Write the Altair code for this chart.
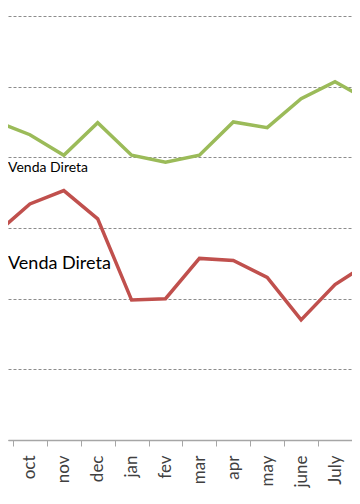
import altair as alt
import pandas as pd

months = ["sep", "oct", "nov", "dec", "jan", "fev", "mar", "apr", "may", "june", "July", "aug"]
serie_verde = [45.1, 43.2, 40.3, 44.9, 40.3, 39.3, 40.3, 45.0, 44.2, 48.3, 50.7, 48.0]
serie_vermelha = [29.2, 33.4, 35.3, 31.3, 19.8, 20.0, 25.7, 25.4, 23.0, 17.0, 22.0, 25.1]
series_names = ["Venda Direta (verde)", "Venda Direta (vermelha)"]
colors = ["#9BBB59", "#C0504D"]
grid_values = [0, 10, 20, 30, 40, 50, 60]
label_texts = ["Venda Direta", "Venda Direta"]

rows = []
for i, m in enumerate(months):
    rows.append({"idx": i, "month": m, "value": serie_verde[i], "serie": series_names[0]})
    rows.append({"idx": i, "month": m, "value": serie_vermelha[i], "serie": series_names[1]})
df = pd.DataFrame(rows)

tick_vals = []
for i in range(len(months)):
    tick_vals.append(i)
    tick_vals.append(i + 0.5)

label_expr = ("datum.value % 1 === 0 ? [" + ",".join("'%s'" % m for m in months)
              + "][datum.value] : ''")

x_scale = alt.Scale(domain=[0.354, 10.501], nice=False, zero=False)
y_scale = alt.Scale(domain=[0, 61.13], nice=False, zero=True)

lines = alt.Chart(df).mark_line(strokeWidth=3.5, clip=True).encode(
    x=alt.X("idx:Q", scale=x_scale, title=None,
            axis=alt.Axis(values=tick_vals, labelExpr=label_expr, labelAngle=270,
                          labelFont="Lato", labelFontSize=17, labelColor="#404040",
                          labelPadding=9, tickSize=6, tickColor="#a6a6a6",
                          tickOpacity={"condition": {"test": "datum.value % 1 === 0", "value": 0}, "value": 1},
                          domainColor="#a6a6a6", domainWidth=1.5, grid=False,
                          labelOverlap=False, labelBound=False, labelFlush=False)),
    y=alt.Y("value:Q", scale=y_scale, title=None,
            axis=alt.Axis(values=grid_values, labels=False, ticks=False, domain=False,
                          grid=True, gridColor="#8c8c8c", gridDash=[3, 2], gridWidth=1)),
    color=alt.Color("serie:N", scale=alt.Scale(domain=series_names, range=colors), legend=None),
    detail="serie:N",
)

lab_df = pd.DataFrame({"text": label_texts})
label_small = alt.Chart(lab_df.iloc[[0]]).mark_text(
    align="left", baseline="middle", font="Lato", fontSize=14, color="#000000"
).encode(x=alt.value(0), y=alt.value(160), text="text:N")
label_big = alt.Chart(lab_df.iloc[[1]]).mark_text(
    align="left", baseline="middle", font="Lato", fontSize=18, color="#000000"
).encode(x=alt.value(0), y=alt.value(256), text="text:N")

chart = alt.layer(lines, label_small, label_big).properties(
    width=344, height=432,
    autosize=alt.AutoSizeParams(type="none"),
    padding={"left": 0, "top": 0, "right": 0, "bottom": 56},
).configure_view(stroke=None)

chart.save("out.html", embed_options={"renderer": "svg", "actions": False})
